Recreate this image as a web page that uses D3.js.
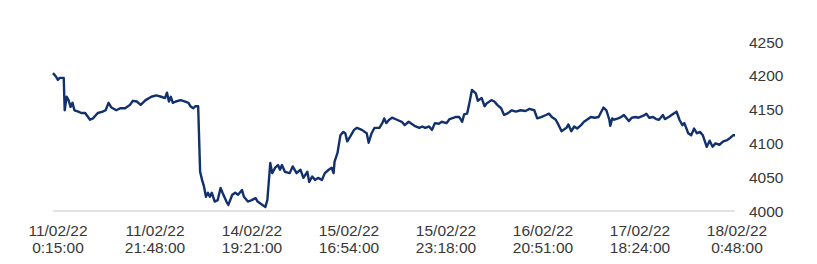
<!DOCTYPE html>
<html>
  <head>
    <meta charset="utf-8">
    <script src="https://cdn.jsdelivr.net/npm/d3@7/dist/d3.min.js"></script>
    <style>
      body { margin: 0; background: #ffffff; }
      text { font-family: "Liberation Sans", Arial, sans-serif; font-size: 15.5px; fill: #383838; }
    </style>
  </head>
  <body>
    <svg width="817" height="264" id="mainsvg"></svg>
    <script>
        // observation number (700 obs across the axis) and price
        const obs = [0,3,5,7,11,12,14,16,18,20,22,26,29,33,38,41,46,51,54,57,60,65,69,74,79,82,86,90,95,101,106,111,115,117,119,121,123,126,131,
            135,139,141,144,146,149,151,153,155,157,159,161,163,166,169,172,174,178,180,184,187,190,194,196,200,204,208,210,215,218,220,
            223,225,228,231,233,235,238,243,246,250,254,257,261,263,266,269,272,276,
            279,283,286,288,289,292,295,298,300,302,305,309,312,317,322,324,327,330,335,338,340,342,345,348,353,358,361,365,371,376,379,382,386,389,392,396,399,404,407,413,
            417,420,422,425,427,430,434,436,440,443,445,450,453,456,460,463,466,471,475,480,485,489,494,497,501,506,509,512,516,519,522,527,529,532,535,538,542,545,548,552,556,
            560,565,568,571,572,574,576,580,583,586,591,594,598,601,606,609,612,616,619,622,626,628,632,636,640,643,646,648,652,655,658,661,664,667,671,674,677,680,684,688,692,695,698,700];
        const price = [4204,4199,4194,4197,4197,4149,4169,4164,4154,4160,4149,4147,4145,4145,4135,4137,4145,4147,4149,4160,4153,4149,4152,4152,4157,4163,4162,4157,4164,4169,4171,4169,4167,4175,4162,4169,4160,4162,4164,
            4162,4160,4155,4152,4155,4155,4058,4046,4036,4021,4027,4021,4027,4014,4016,4034,4027,4014,4009,4024,4027,4024,4031,4021,4014,4016,4019,4014,4009,4006,4016,
            4071,4056,4064,4068,4061,4068,4058,4056,4066,4056,4061,4049,4058,4043,4051,4046,4049,4046,
            4056,4061,4064,4056,4073,4086,4112,4117,4115,4103,4110,4120,4123,4120,4115,4101,4115,4123,4123,4130,4137,4130,4135,4138,4135,4132,4127,4132,4126,4123,4125,4123,4125,4120,4130,4129,4132,4130,4136,4139,
            4139,4132,4143,4144,4157,4179,4174,4163,4167,4155,4159,4164,4162,4157,4152,4142,4144,4149,4147,4149,4148,4151,4149,4137,4139,4142,4144,4139,4135,4127,4118,4123,4128,4118,4125,4122,4127,4132,4135,4139,4138,
            4139,4153,4149,4135,4126,4137,4135,4137,4139,4142,4133,4138,4139,4138,4141,4144,4138,4139,4136,4135,4142,4136,4139,4143,4147,4135,4127,4130,4115,4112,4122,4115,4117,4112,4095,4104,4095,4100,4098,4103,4105,4108,4112,4112];

        const tickObs = [0, 100, 200, 300, 400, 500, 600, 700];
        const tickDate = ['11/02/22', '11/02/22', '14/02/22', '15/02/22', '15/02/22', '16/02/22', '17/02/22', '18/02/22'];
        const tickTime = ['0:15:00', '21:48:00', '19:21:00', '16:54:00', '23:18:00', '20:51:00', '18:24:00', '0:48:00'];
        const yTicks = [4000, 4050, 4100, 4150, 4200, 4250];

        const svg = d3.select('#mainsvg');
        const x = d3.scaleLinear().domain([0, 700]).range([53, 735]);
        const xLab = d3.scaleLinear().domain([0, 700]).range([58, 737]);
        const y = d3.scaleLinear().domain([4000, 4250]).range([211, 42]);

        // baseline
        svg.append('line')
            .attr('x1', x(0)).attr('x2', x(700))
            .attr('y1', y(4000)).attr('y2', y(4000))
            .attr('stroke', '#d9d9d9').attr('stroke-width', 1.5);

        // y labels on the right
        svg.selectAll('.ylab').data(yTicks).enter().append('text')
            .attr('class', 'ylab')
            .attr('x', 749)
            .attr('y', d => y(d))
            .attr('dy', '0.36em')
            .text(d => d);

        // x labels, two lines
        const xl = svg.selectAll('.xlab').data(tickObs).enter().append('text')
            .attr('class', 'xlab')
            .attr('text-anchor', 'middle')
            .attr('transform', d => `translate(${xLab(d)}, 236)`);
        xl.append('tspan').attr('x', 0).attr('y', 0).text((d, i) => tickDate[i]);
        xl.append('tspan').attr('x', 0).attr('y', 17).text((d, i) => tickTime[i]);

        const data = obs.map((o, i) => ({o: o, v: price[i]}));
        const line = d3.line().x(d => x(d.o)).y(d => y(d.v));
        svg.append('path')
            .datum(data)
            .attr('d', line)
            .attr('fill', 'none')
            .attr('stroke', '#12306e')
            .attr('stroke-width', 2.4)
            .attr('stroke-linejoin', 'round');
    </script>
  </body>
</html>
